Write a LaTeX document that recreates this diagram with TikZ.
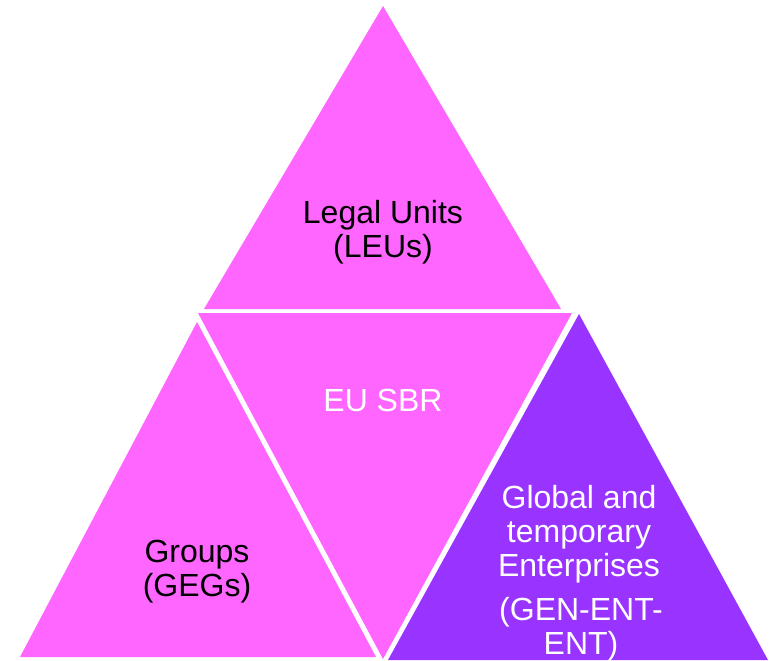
\documentclass[tikz,border=0pt]{standalone}
\usepackage{fontspec}
\setmainfont{Liberation Sans}
\usetikzlibrary{positioning}
\definecolor{sbrpink}{HTML}{FF66FF}
\definecolor{sbrpurple}{HTML}{9933FF}

\begin{document}
\begin{tikzpicture}[x=1pt,y=-1pt,
	label/.style={align=center,font=\fontsize{32}{34}\selectfont,inner sep=0pt}]
	\useasboundingbox (0,0) rectangle (771,661);

	% the four triangles
	\fill[sbrpink] (383,6) -- (561,309) -- (204,309) -- cycle;
	\fill[sbrpink] (198,313) -- (572,313) -- (383,659) -- cycle;
	\fill[sbrpink] (197,322) -- (376,657) -- (20,657) -- cycle;
	\fill[sbrpurple] (579,314) -- (768,660) -- (388,660) -- cycle;

	% texts
	\node [label] (leu) at (383,232) {Legal Units\\(LEUs)};
	\node [label,text=white] (sbr) at (383,400) {EU SBR};
	\node [label] (geg) at (197,572) {Groups\\(GEGs)};
	\node [label,text=white] (gen) at (579,534) {Global and\\temporary\\Enterprises};
	\node [label,text=white] (genent) at (581,629) {(GEN-ENT-\\ENT)};
\end{tikzpicture}
\end{document}
